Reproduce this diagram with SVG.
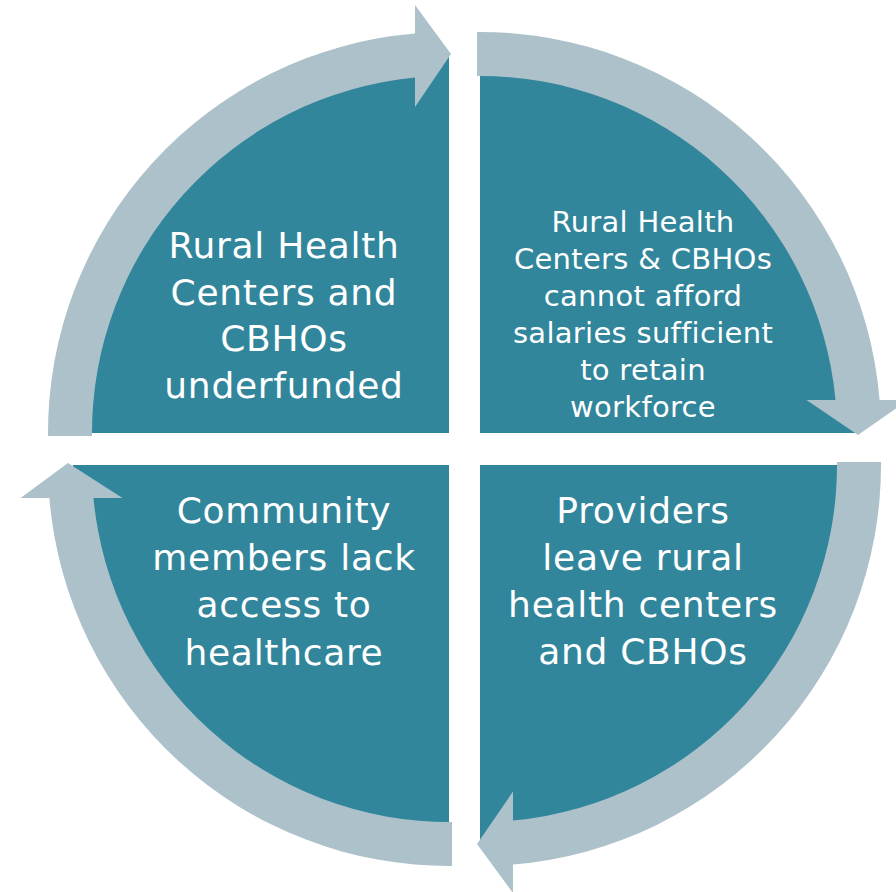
<svg xmlns="http://www.w3.org/2000/svg" width="896" height="892" viewBox="0 0 896 892">
  <style>
    .quad { fill: #31869B; }
    .arrow { fill: #ADC1CB; }
    .lbl { fill: #FFFFFF; font-family: "DejaVu Sans", "Liberation Sans", sans-serif; text-anchor: middle; }
    .big { font-size: 36px; letter-spacing: 0.7px; }
    .small { font-size: 29px; letter-spacing: 0.3px; }
  </style>
  <rect width="896" height="892" fill="#FFFFFF"/>
  <g id="node-tl">
    <path class="quad" d="M449,433 L73,433 A376,376 0 0 1 449,57 Z"/>
  </g>
  <g id="node-tr">
    <path class="quad" d="M480,433 L480,57 A376,376 0 0 1 856,433 Z"/>
  </g>
  <g id="node-br">
    <path class="quad" d="M480,465 L856,465 A376,376 0 0 1 480,841 Z"/>
  </g>
  <g id="node-bl">
    <path class="quad" d="M449,465 L449,841 A376,376 0 0 1 73,465 Z"/>
  </g>
  <g id="connectors">
    <path class="arrow" d="M48,436 A401,401 0 0 1 415,33.4 L415,5 L451,54 L415,107 L415,77.6 A357,357 0 0 0 92,436 Z"/>
    <path class="arrow" d="M477,32 A401,401 0 0 1 879.6,400 L908,400 L858,435 L806.5,400 L835.5,400 A357,357 0 0 0 477,76 Z"/>
    <path class="arrow" d="M881,462 A401,401 0 0 1 513,864.6 L513,893 L477,844 L513,791.5 L513,820.5 A357,357 0 0 0 837,462 Z"/>
    <path class="arrow" d="M452,866 A401,401 0 0 1 49.4,498 L20.5,498 L68,463 L122.5,498 L93.5,498 A357,357 0 0 0 452,822 Z"/>
  </g>
  <g id="label-tl" class="lbl big">
    <text x="284" y="258">Rural Health</text>
    <text x="284" y="304.7">Centers and</text>
    <text x="284" y="351.3">CBHOs</text>
    <text x="284" y="398">underfunded</text>
  </g>
  <g id="label-tr" class="lbl small">
    <text x="643" y="232">Rural Health</text>
    <text x="643" y="269">Centers &amp; CBHOs</text>
    <text x="643" y="306">cannot afford</text>
    <text x="643" y="343">salaries sufficient</text>
    <text x="643" y="380">to retain</text>
    <text x="643" y="417">workforce</text>
  </g>
  <g id="label-bl" class="lbl big">
    <text x="284" y="523">Community</text>
    <text x="284" y="570">members lack</text>
    <text x="284" y="617">access to</text>
    <text x="284" y="665">healthcare</text>
  </g>
  <g id="label-br" class="lbl big">
    <text x="643" y="523">Providers</text>
    <text x="643" y="570">leave rural</text>
    <text x="643" y="617">health centers</text>
    <text x="643" y="664">and CBHOs</text>
  </g>
</svg>
